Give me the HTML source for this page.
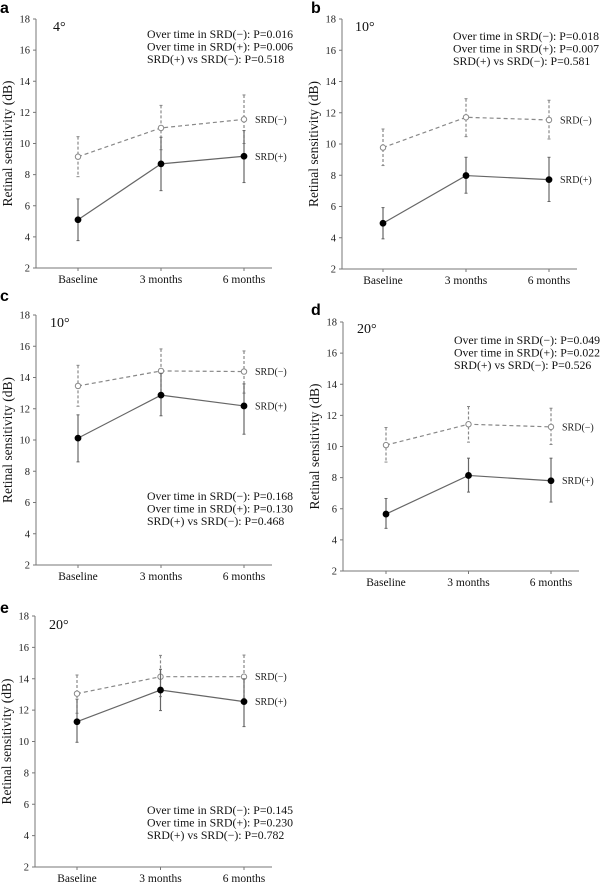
<!DOCTYPE html>
<html><head><meta charset="utf-8"><style>
body{margin:0;background:#fff;}
svg{display:block;font-family:"Liberation Serif",serif;}
.ann{font-size:11.8px;fill:#111;}
.tick{font-size:10.5px;fill:#222;}
.xl{font-size:11.5px;fill:#111;}
</style></head><body>
<svg id="chart" width="600" height="882" viewBox="0 0 600 882"></svg>
<script>
const categories = ["Baseline","3 months","6 months"];
const yTicks = [2,4,6,8,10,12,14,16,18];
const panelLetters = ["a","b","c","d","e"];
const panelAngles = ["4°","10°","10°","20°","20°"];
const negMean = [[9.15,11.0,11.55],[9.77,11.71,11.54],[13.46,14.42,14.38],[10.09,11.43,11.26],[13.05,14.13,14.13]];
const negUp = [[10.44,12.45,13.12],[10.96,12.9,12.8],[14.78,15.83,15.7],[11.22,12.57,12.46],[14.24,15.49,15.51]];
const negLo = [[7.87,9.6,10.0],[8.62,10.47,10.32],[12.16,13.0,13.0],[9.0,10.28,10.13],[11.8,12.86,12.75]];
const posMean = [[5.1,8.69,9.18],[4.93,7.98,7.72],[10.12,12.87,12.18],[5.66,8.14,7.8],[11.26,13.28,12.54]];
const posUp = [[6.44,10.4,10.83],[5.93,9.15,9.15],[11.61,14.27,13.59],[6.66,9.25,9.25],[12.7,14.6,14.0]];
const posLo = [[3.76,6.97,7.49],[3.93,6.85,6.32],[8.6,11.55,10.37],[4.74,7.07,6.43],[9.95,11.97,10.95]];
const pNeg = ["0.016","0.018","0.168","0.049","0.145"];
const pPos = ["0.006","0.007","0.130","0.022","0.230"];
const pVs = ["0.518","0.581","0.468","0.526","0.782"];

// layout (not data)
const layouts = [
 {ax:36,top:19,bot:268,x0:78,dx:83,annX:147,annY:34,letX:0,letY:13,angX:53,angY:31},
 {ax:342,top:19,bot:269,x0:383,dx:83,annX:453,annY:36,letX:311,letY:13,angX:355,angY:31},
 {ax:36,top:315,bot:565,x0:78,dx:83,annX:147,annY:496,letX:0,letY:301,angX:50,angY:327},
 {ax:343,top:322,bot:571,x0:386,dx:82.5,annX:454,annY:340,letX:311,letY:315,angX:357,angY:333},
 {ax:35,top:616,bot:867,x0:77,dx:83.5,annX:147,annY:810,letX:0,letY:613,angX:49,angY:629}
];
const svg=document.getElementById('chart');
const NS="http://www.w3.org/2000/svg";
function mk(tag,attrs,parent){const e=document.createElementNS(NS,tag);for(const k in attrs)e.setAttribute(k,attrs[k]);parent.appendChild(e);return e;}

layouts.forEach((L,p)=>{
 const g=mk('g',{},svg);
 
 
 const y=v=>L.bot-(v-2)/16*(L.bot-L.top);
 const x=i=>L.x0+i*L.dx;
 const right=L.x0+2*L.dx+28;
 const yax=mk('line',{x1:L.ax,y1:L.top,x2:L.ax,y2:L.bot,stroke:'#777','stroke-width':1},g);
 
 
 const xax=mk('line',{x1:L.ax,y1:L.bot,x2:right,y2:L.bot,stroke:'#777','stroke-width':1},g);
 
 
 yTicks.forEach(t=>{
  mk('line',{x1:L.ax-3,y1:y(t),x2:L.ax,y2:y(t),stroke:'#777'},g);
  const tx=mk('text',{x:L.ax-6,y:y(t)+3.5,'text-anchor':'end',class:'tick'},g);
  tx.textContent=t;
  
  
 });
 categories.forEach((c,i)=>{
  mk('line',{x1:x(i),y1:L.bot,x2:x(i),y2:L.bot+3,stroke:'#777'},g);
  const tx=mk('text',{x:x(i),y:L.bot+15,'text-anchor':'middle',class:'xl'},g);
  tx.textContent=c;
  
  
 });
 const yt=mk('text',{x:0,y:0,transform:`translate(${L.ax-24},${(L.top+L.bot)/2}) rotate(-90)`,'text-anchor':'middle','font-size':'13.5px',fill:'#111'},g);
 yt.textContent='Retinal sensitivity (dB)';
 
 
 const lt=mk('text',{x:L.letX,y:L.letY,'font-family':'Liberation Sans, sans-serif','font-weight':'bold','font-size':'16px',fill:'#000'},g);
 lt.textContent=panelLetters[p];
 
 
 const at=mk('text',{x:L.angX,y:L.angY,'font-size':'14px',fill:'#111'},g);
 at.textContent=panelAngles[p];
 
 
 [`Over time in SRD(−): P=${pNeg[p]}`,`Over time in SRD(+): P=${pPos[p]}`,`SRD(+) vs SRD(−): P=${pVs[p]}`].forEach((s,k)=>{
  const a=mk('text',{x:L.annX,y:L.annY+k*12.5+4,class:'ann'},g);
  a.textContent=s;
  
  
 });
 const series=[
  {m:negMean[p],u:negUp[p],l:negLo[p],dash:'4,3',col:'#888',fill:'#fff',name:'srd-negative',lab:'SRD(−)'},
  {m:posMean[p],u:posUp[p],l:posLo[p],dash:'',col:'#666',fill:'#000',name:'srd-positive',lab:'SRD(+)'}
 ];
 series.forEach(S=>{
  S.m.forEach((v,i)=>{
   const eb=mk('line',{x1:x(i),y1:y(S.u[i]),x2:x(i),y2:y(S.l[i]),stroke:S.col,'stroke-width':1.2,'stroke-dasharray':S.dash?'3,2':''},g);
   
   
   mk('line',{x1:x(i)-1.5,y1:y(S.u[i]),x2:x(i)+1.5,y2:y(S.u[i]),stroke:S.col},g);
   mk('line',{x1:x(i)-1.5,y1:y(S.l[i]),x2:x(i)+1.5,y2:y(S.l[i]),stroke:S.col},g);
  });
  const pl=mk('polyline',{points:S.m.map((v,i)=>x(i)+','+y(v)).join(' '),fill:'none',stroke:S.col,'stroke-width':1.2,'stroke-dasharray':S.dash},g);
  
  
  S.m.forEach((v,i)=>{
   const c=mk('circle',{cx:x(i),cy:y(v),r:S.fill==='#000'?2.9:2.7,fill:S.fill,stroke:S.fill==='#000'?'#000':'#888','stroke-width':1},g);
   
   
  });
  const sl=mk('text',{x:x(2)+11,y:y(S.m[2])+3.5,'font-size':'10px',fill:'#222'},g);
  sl.textContent=S.lab;
  
  
 });
});
</script>
</body></html>
